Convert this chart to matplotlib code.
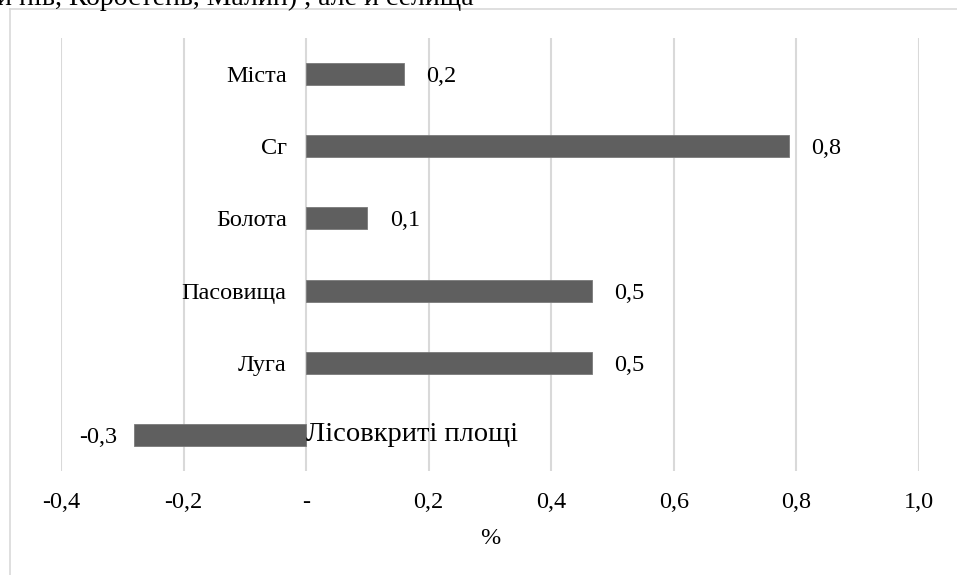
import matplotlib.pyplot as plt
from matplotlib.lines import Line2D

plt.rcParams['font.family'] = ['Liberation Serif', 'DejaVu Serif']

categories = ['Міста', 'Сг', 'Болота', 'Пасовища', 'Луга', 'Лісовкриті площі']
values = [0.16, 0.788, 0.10, 0.467, 0.467, -0.281]
ticks = [-0.4, -0.2, 0.0, 0.2, 0.4, 0.6, 0.8, 1.0]
tick_labels = ['-0,4', '-0,2', '-', '0,2', '0,4', '0,6', '0,8', '1,0']
page_text = 'и нів, Коростень, Малин) , але й селища'

W, H = 957, 575
FS = 17.5
fig = plt.figure(figsize=(W / 100, H / 100), dpi=100)
fig.patch.set_facecolor('white')

# chart frame (only top and left edges are visible in the crop)
frame_col = '#d9d9d9'
fig.add_artist(Line2D([10 / W, 1.0], [1 - 9 / H, 1 - 9 / H], color=frame_col, lw=1.2))
fig.add_artist(Line2D([10 / W, 10 / W], [0, 1 - 9 / H], color=frame_col, lw=1.2))

# fragment of the surrounding document text
fig.text(-3 / W, 1 - 5 / H, page_text, fontsize=20, ha='left', va='baseline')

ax = fig.add_axes([61 / W, (H - 471) / H, (919 - 61) / W, (471 - 38) / H])
y = list(range(len(categories)))
ax.barh(y, values, height=0.305, color='#5f5f5f', edgecolor='#7a7a7a', linewidth=0.6, zorder=3)
ax.set_ylim(len(categories) - 0.5, -0.5)
ax.set_xlim(ticks[0], ticks[-1])

ax.set_xticks(ticks)
ax.set_xticklabels(tick_labels, fontsize=FS)
ax.tick_params(axis='x', length=0, pad=15)
ax.set_yticks([])
ax.grid(axis='x', color=frame_col, lw=1.5, zorder=0)
for s in ax.spines.values():
    s.set_visible(False)
ax.set_xlabel('%', fontsize=FS, labelpad=11)

for i, (cat, v) in enumerate(zip(categories, values)):
    lab = f'{v:.1f}'.replace('.', ',')
    if v >= 0:
        ax.annotate(lab, (v, i), xytext=(16, 0), textcoords='offset points',
                    ha='left', va='center_baseline', fontsize=FS)
        ax.annotate(cat, (0, i), xytext=(-14, 0), textcoords='offset points',
                    ha='right', va='center_baseline', fontsize=FS)
    else:
        ax.annotate(lab, (v, i), xytext=(-12, 0), textcoords='offset points',
                    ha='right', va='center_baseline', fontsize=FS)
        ax.annotate(cat, (0, i), xytext=(0, 0), textcoords='offset points',
                    ha='left', va='center', fontsize=20.5)

fig.savefig('out.png', dpi=100)
